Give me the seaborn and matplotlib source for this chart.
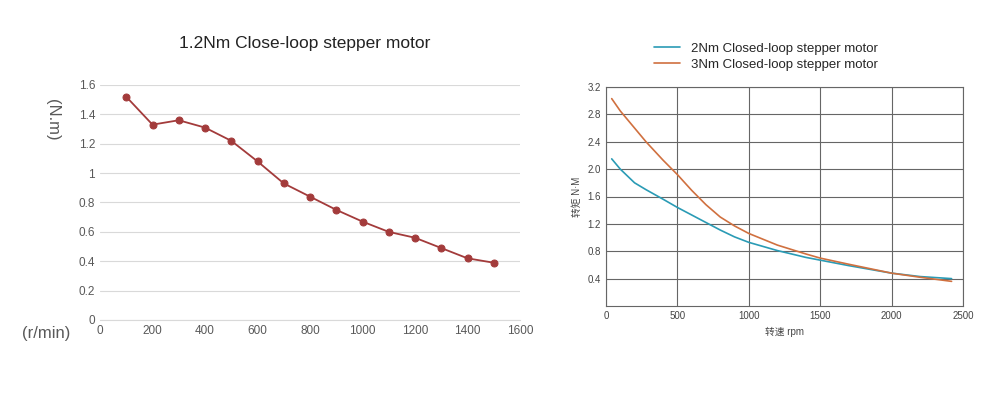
import matplotlib
matplotlib.use("Agg")
import matplotlib.pyplot as plt
import seaborn as sns
import numpy as np
import pandas as pd
from matplotlib.ticker import FuncFormatter

speed_12 = [100,200,300,400,500,600,700,800,900,1000,1100,1200,1300,1400,1500]
torque_12 = [1.52,1.33,1.36,1.31,1.22,1.08,0.93,0.84,0.75,0.67,0.60,0.56,0.49,0.42,0.39]

rpm = [40,100,200,280,400,500,600,700,800,900,1000,1200,1400,1500,1700,2000,2200,2420]
t2 = [2.15,2.00,1.80,1.70,1.56,1.44,1.33,1.22,1.11,1.01,0.93,0.81,0.71,0.67,0.59,0.48,0.43,0.40]
t3 = [3.03,2.85,2.60,2.40,2.13,1.92,1.69,1.48,1.30,1.17,1.06,0.89,0.76,0.70,0.61,0.48,0.42,0.36]

sns.set_style("white")
plt.rcParams['font.family'] = ['Liberation Sans', 'Noto Sans CJK SC', 'DejaVu Sans']
fig = plt.figure(figsize=(10, 4), dpi=100)

# Left chart
ax1 = fig.add_axes([0.1, 0.2, 0.42, 0.5875])
df1 = pd.DataFrame({"speed": speed_12, "torque": torque_12})
sns.lineplot(data=df1, x="speed", y="torque", ax=ax1, color="#a33b3b", marker="o",
             markersize=5, markeredgecolor="#a33b3b", linewidth=1.3)
ax1.set_xlim(0, 1600); ax1.set_ylim(0, 1.6)
ax1.set_xticks(range(0, 1601, 200)); ax1.set_yticks(np.arange(0, 1.61, 0.2))
ax1.yaxis.set_major_formatter(FuncFormatter(lambda v, p: f"{v:g}"))
ax1.grid(axis="y", color="#d9d9d9", linewidth=0.8)
for s in ["top", "right", "left"]:
    ax1.spines[s].set_visible(False)
ax1.spines["bottom"].set_color("#d9d9d9")
ax1.tick_params(labelsize=8.5, colors="#595959", length=0)
ax1.set_xlabel(""); ax1.set_ylabel("")
fig.text(0.022, 0.155, "(r/min)", fontsize=12, color="#595959")
fig.text(0.045, 0.655, "(N.m)", fontsize=12, color="#595959", rotation=270)
fig.text(0.305, 0.88, "1.2Nm Close-loop stepper motor", fontsize=12.5, ha="center", color="#222222")

# Right chart
ax2 = fig.add_axes([0.606, 0.235, 0.357, 0.5475])
df2 = pd.DataFrame({"rpm": rpm * 2, "torque": t2 + t3,
                    "motor": ["2Nm Closed-loop stepper motor"] * len(rpm) + ["3Nm Closed-loop stepper motor"] * len(rpm)})
sns.lineplot(data=df2, x="rpm", y="torque", hue="motor", ax=ax2,
             palette=["#2a9bb5", "#d0703f"], linewidth=1.2)
ax2.set_xlim(0, 2500); ax2.set_ylim(0, 3.2)
ax2.set_xticks(range(0, 2501, 500)); ax2.set_yticks(np.arange(0.4, 3.21, 0.4))
ax2.yaxis.set_major_formatter(FuncFormatter(lambda v, p: f"{v:.1f}"))
ax2.grid(True, color="#666666", linewidth=0.8)
for s in ax2.spines.values():
    s.set_color("#666666")
ax2.tick_params(labelsize=7, colors="#444444", length=0)
ax2.set_xlabel("转速 rpm", fontsize=7, color="#444444")
ax2.set_ylabel("转矩 N·M", fontsize=7, color="#444444")
ax2.legend(loc="lower left", bbox_to_anchor=(0.1, 1.02), frameon=False, fontsize=9.5,
           handlelength=2, labelspacing=0.3)

fig.savefig("out.png", dpi=100)
